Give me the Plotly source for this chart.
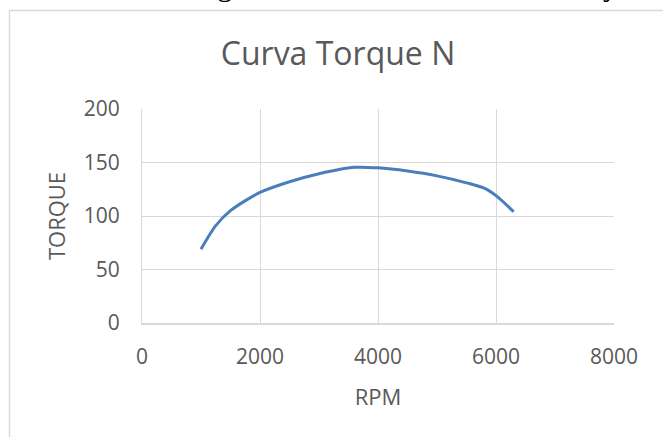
import plotly.graph_objects as go

# Torque curve samples (engine speed vs torque)
rpm = [1000, 1250, 1500, 2000, 2500, 3000, 3600, 4000, 4500, 5000, 5500, 5800, 6000, 6300]
torque = [69, 91, 105, 122, 132, 139.5, 145.5, 145, 142, 137.5, 131, 126, 119, 104]

x_ticks = [0, 2000, 4000, 6000, 8000]
y_ticks = [0, 50, 100, 150, 200]

W, H = 663, 437
L, R, T, B = 142, 49, 109, 114
pw, ph = W - L - R, H - T - B


def px_x(v):
    return (v - L) / pw


def px_y(v):
    return (H - B - v) / ph


grid = "#d9d9d9"
label = "#595959"
font = "Open Sans, Liberation Sans, sans-serif"

fig = go.Figure()
fig.add_trace(go.Scatter(
    x=rpm, y=torque, mode="lines",
    line=dict(color="#4a7ebb", width=3, shape="spline", smoothing=0.8),
    hoverinfo="x+y", showlegend=False,
))

fig.update_layout(
    width=W, height=H,
    margin=dict(l=L, r=R, t=T, b=B),
    paper_bgcolor="white", plot_bgcolor="white",
    title=dict(text="Curva Torque N", xref="container", x=338 / W, xanchor="center",
               yref="container", y=1 - 54 / H, yanchor="middle",
               font=dict(family=font, size=32, color=label)),
    xaxis=dict(range=[0, 8000], tickvals=x_ticks, ticktext=[str(v) for v in x_ticks],
               showgrid=True, gridcolor=grid, gridwidth=1, zeroline=False,
               showline=True, linecolor=grid, linewidth=1.5, ticks="",
               ticklabelstandoff=14,
               tickfont=dict(family=font, size=21, color=label),
               title=dict(text="RPM", font=dict(family=font, size=22, color=label),
                          standoff=21)),
    yaxis=dict(range=[0, 200], tickvals=y_ticks, ticktext=[str(v) for v in y_ticks],
               showgrid=True, gridcolor=grid, gridwidth=1, zeroline=False,
               showline=True, linecolor=grid, linewidth=1, ticks="",
               ticklabelstandoff=17,
               tickfont=dict(family=font, size=21, color=label),
               title=dict(text="TORQUE", font=dict(family=font, size=22, color=label),
                          standoff=12)),
    shapes=[dict(type="rect", xref="paper", yref="paper",
                 x0=px_x(9.5), x1=px_x(720), y0=px_y(460), y1=px_y(10.5),
                 line=dict(color=grid, width=1.5), fillcolor="rgba(0,0,0,0)",
                 layer="below")],
    annotations=[dict(text="the data of the gases we obtained from the analysis.",
                      xref="paper", yref="paper", x=px_x(37), y=px_y(1),
                      xanchor="left", yanchor="bottom", yshift=-3, showarrow=False,
                      font=dict(family="Liberation Serif, serif", size=30, color="black"))],
)

fig.write_html("out.html")
